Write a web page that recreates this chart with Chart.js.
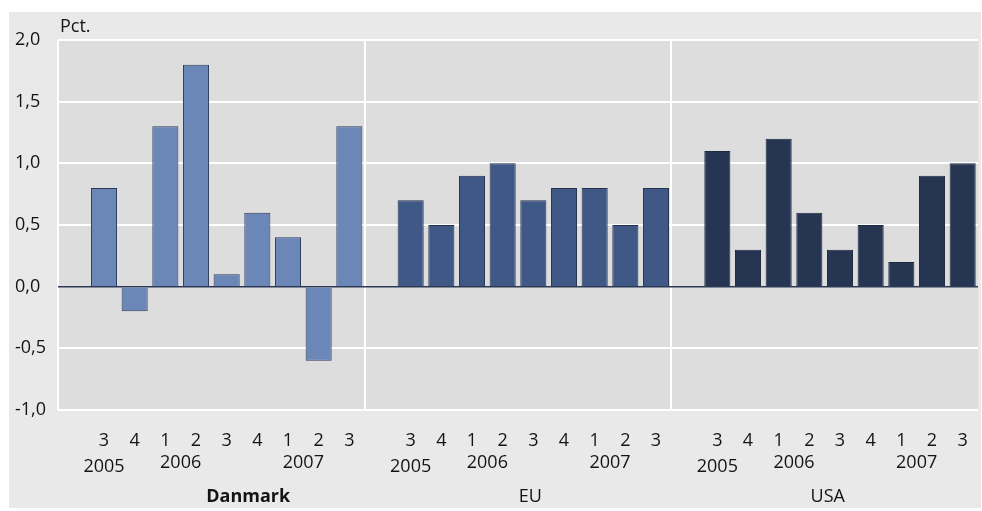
<!DOCTYPE html>
<html>
<head>
<meta charset="utf-8">
<script src="https://cdn.jsdelivr.net/npm/chart.js@4"></script>
<style>
  body { margin: 0; background: #ffffff; }
  #wrap { width: 982px; height: 511px; }
</style>
</head>
<body>
<div id="wrap"><canvas id="Vaekst" width="982" height="511"></canvas></div>
<script>
// kvartaler: foerste plads i hver gruppe er tom
var kvartaler = ['', '3', '4', '1', '2', '3', '4', '1', '2', '3'];
var grupper = ['Danmark', 'EU', 'USA'];
var danmark = [0.8, -0.2, 1.3, 1.8, 0.1, 0.6, 0.4, -0.6, 1.3];
var eu = [0.7, 0.5, 0.9, 1.0, 0.7, 0.8, 0.8, 0.5, 0.8];
var usa = [1.1, 0.3, 1.2, 0.6, 0.3, 0.5, 0.2, 0.9, 1.0];
var aar = ['2005', '2006', '2007'];
var aarPlads = [1, 3.5, 7.5];     // kategori-indeks inden for gruppen
var gruppePlads = [5.7, 4.9, 4.6];
var yTicks = [-1.0, -0.5, 0.0, 0.5, 1.0, 1.5, 2.0];

var skrift = '"Open Sans", sans-serif';
var tekstFarve = '#141414';

var labels = [];
grupper.forEach(function () { labels = labels.concat(kvartaler); });

function iGruppe(vaerdier, g) {
    var ud = [];
    for (var i = 0; i < grupper.length * 10; i++) ud.push(null);
    vaerdier.forEach(function (v, i) { ud[g * 10 + 1 + i] = v; });
    return ud;
}

var baggrund = {
    id: 'baggrund',
    beforeDraw: function (chart) {
        var c = chart.ctx, a = chart.chartArea;
        c.save();
        c.fillStyle = '#e9e9e9';
        c.fillRect(9, 12, 972, 496);
        c.fillStyle = '#dddddd';
        c.fillRect(a.left, a.top, a.right - a.left, a.bottom - a.top);
        c.restore();
    },
    afterDraw: function (chart) {
        var c = chart.ctx, x = chart.scales.x;
        c.save();
        c.fillStyle = tekstFarve;
        c.textAlign = 'center';
        c.textBaseline = 'middle';
        c.font = '18px ' + skrift;
        grupper.forEach(function (g, gi) {
            aar.forEach(function (a, ai) {
                var px = x.getPixelForValue(gi * 10 + aarPlads[ai]);
                c.fillText(a, px, ai === 0 ? 467 : 463);
            });
            c.font = (gi === 0 ? 'bold ' : '') + '18px ' + skrift;
            c.fillText(g, x.getPixelForValue(gi * 10 + gruppePlads[gi]), 497);
            c.font = '18px ' + skrift;
        });
        c.textAlign = 'left';
        c.fillText('Pct.', 60, 27);
        c.restore();
    }
};

var ctx = document.getElementById('Vaekst').getContext('2d');
var chart = new Chart(ctx, {
    type: 'bar',
    data: {
        labels: labels,
        datasets: [
            { label: 'Danmark', data: iGruppe(danmark, 0), backgroundColor: '#6b87b7', borderColor: '#2c3a58', borderWidth: 1 },
            { label: 'EU', data: iGruppe(eu, 1), backgroundColor: '#3f5886', borderColor: '#26314d', borderWidth: 1 },
            { label: 'USA', data: iGruppe(usa, 2), backgroundColor: '#263552', borderColor: '#1c2740', borderWidth: 1 }
        ]
    },
    options: {
        responsive: false,
        animation: false,
        layout: { padding: { left: 15, right: 4, top: 40, bottom: 0 } },
        datasets: { bar: { categoryPercentage: 1, barPercentage: 0.85 } },
        plugins: { legend: { display: false }, tooltip: { enabled: false } },
        scales: {
            x: {
                stacked: true,
                afterFit: function (s) { s.height = 101; s.paddingLeft = 0; s.paddingRight = 0; },
                border: { display: false },
                grid: {
                    offset: true,
                    drawTicks: false,
                    lineWidth: 2,
                    color: function (c) { return c.index % 10 === 0 ? '#ffffff' : 'rgba(0,0,0,0)'; }
                },
                ticks: {
                    autoSkip: false, maxRotation: 0, padding: 20,
                    color: tekstFarve, font: { family: skrift, size: 18 }
                }
            },
            y: {
                stacked: true,
                min: -1, max: 2,
                afterFit: function (s) { s.width = 43; },
                afterBuildTicks: function (s) { s.ticks = yTicks.map(function (v) { return { value: v }; }); },
                border: { display: false },
                grid: {
                    drawTicks: false,
                    lineWidth: function (c) { return c.tick && c.tick.value === 0 ? 1.5 : 2; },
                    color: function (c) { return c.tick && c.tick.value === 0 ? '#2c3a58' : '#ffffff'; }
                },
                ticks: {
                    crossAlign: 'far',
                    color: tekstFarve, font: { family: skrift, size: 18 },
                    callback: function (v) { return Number(v).toFixed(1).replace('.', ','); }
                }
            }
        }
    },
    plugins: [baggrund]
});
</script>
</body>
</html>
